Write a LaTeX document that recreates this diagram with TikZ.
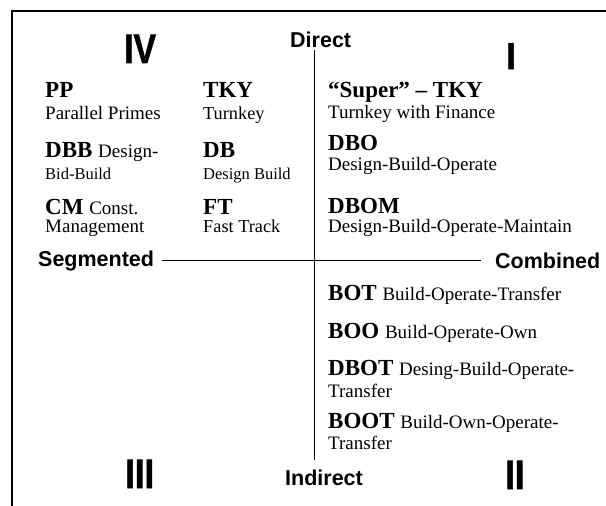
\documentclass[tikz,border=0pt]{standalone}
\usepackage{fontspec}
\usepackage{graphicx}
\setmainfont{Liberation Serif}
\setsansfont{Liberation Sans}
\newfontfamily\numfont{Liberation Sans Bold}[FakeBold=1.5]
\newcommand{\hdf}{\fontsize{23}{23}\selectfont\bfseries}
\newcommand{\dsf}{\fontsize{19}{19}\selectfont\mdseries}
\newcommand{\dsl}{\fontsize{19}{19}\selectfont\mdseries}
\newcommand{\dsm}{\fontsize{18.3}{18.3}\selectfont\mdseries}
\newcommand{\dss}{\fontsize{16.5}{16.5}\selectfont\mdseries}
\begin{document}
\begin{tikzpicture}[x=1pt,y=-1pt,
  every node/.style={inner sep=0pt, anchor=base west},
  hd/.style={font=\hdf},
  ds/.style={font=\dsf},
  dl/.style={font=\dsl},
  dmid/.style={font=\dsm},
  dsmall/.style={font=\dss},
  axl/.style={font=\sffamily\bfseries\fontsize{21.5}{21.5}\selectfont},
  rn/.style={font=\numfont\fontsize{41}{41}\selectfont},
  frame/.style={line width=2pt},
  axis/.style={line width=1pt}]
\useasboundingbox (0,0) rectangle (606,506);
% frame
\draw[frame] (12,507) -- (12,11) -- (606,11);
% roman numerals
\node[rn] (n4) at (124,63) {\scalebox{0.82}[1]{IV}};
\node[rn] (n1) at (506,69) {\scalebox{0.85}[0.92]{I}};
\node[rn] (n3) at (125,488) {\scalebox{0.85}[1]{III}};
\node[rn] (n2) at (505,489) {\scalebox{0.85}[1]{II}};
% axis labels
\node[axl] (direct) at (290,47) {Direct};
\node[axl] (indirect) at (285,485) {Indirect};
\node[axl] (seg) at (38,266) {Segmented};
\node[axl] (comb) at (495,268) {Combined};
\coordinate (vtop) at (314,50);
\coordinate (vbot) at (314,460);
\draw[axis] (vtop) -- (vbot);
\draw[axis] ([xshift=8pt]seg.east) -- ([xshift=-14pt]seg.east -| comb.west);
% quadrant IV
\node[hd] (pp) at (45,97) {PP};
\node[dl] (ppd) at (45,119) {Parallel Primes};
\node[hd] (dbb) at (45,157) {DBB \dsl Design-};
\node[dsmall] (dbbd) at (45,179) {Bid-Build};
\node[hd] (cm) at (45,214) {CM \dsl Const.};
\node[dl] (cmd) at (45,232) {Management};
\node[hd] (tky) at (203,97) {TKY};
\node[dmid] (tkyd) at (203,119) {Turnkey};
\node[hd] (db) at (203,157) {DB};
\node[dsmall] (dbd) at (203,179) {Design Build};
\node[hd] (ft) at (203,214) {FT};
\node[dmid] (ftd) at (203,232) {Fast Track};
% quadrant I
\node[hd] (stky) at (328,97) {“Super” – TKY};
\node[ds] (stkyd) at (328,118) {Turnkey with Finance};
\node[hd] (dbo) at (328,150) {DBO};
\node[ds] (dbod) at (328,170) {Design-Build-Operate};
\node[hd] (dbom) at (328,213) {DBOM};
\node[ds] (dbomd) at (328,232) {Design-Build-Operate-Maintain};
% quadrant II
\node[hd] (bot) at (328,300) {BOT \dsf Build-Operate-Transfer};
\node[hd] (boo) at (328,338) {BOO \dsf Build-Operate-Own};
\node[hd] (dbot) at (328,375) {DBOT \dsf Desing-Build-Operate-};
\node[ds] (dbotd) at (328,397) {Transfer};
\node[hd] (boot) at (328,428) {BOOT \dsf Build-Own-Operate-};
\node[ds] (bootd) at (328,449) {Transfer};
\end{tikzpicture}
\end{document}
